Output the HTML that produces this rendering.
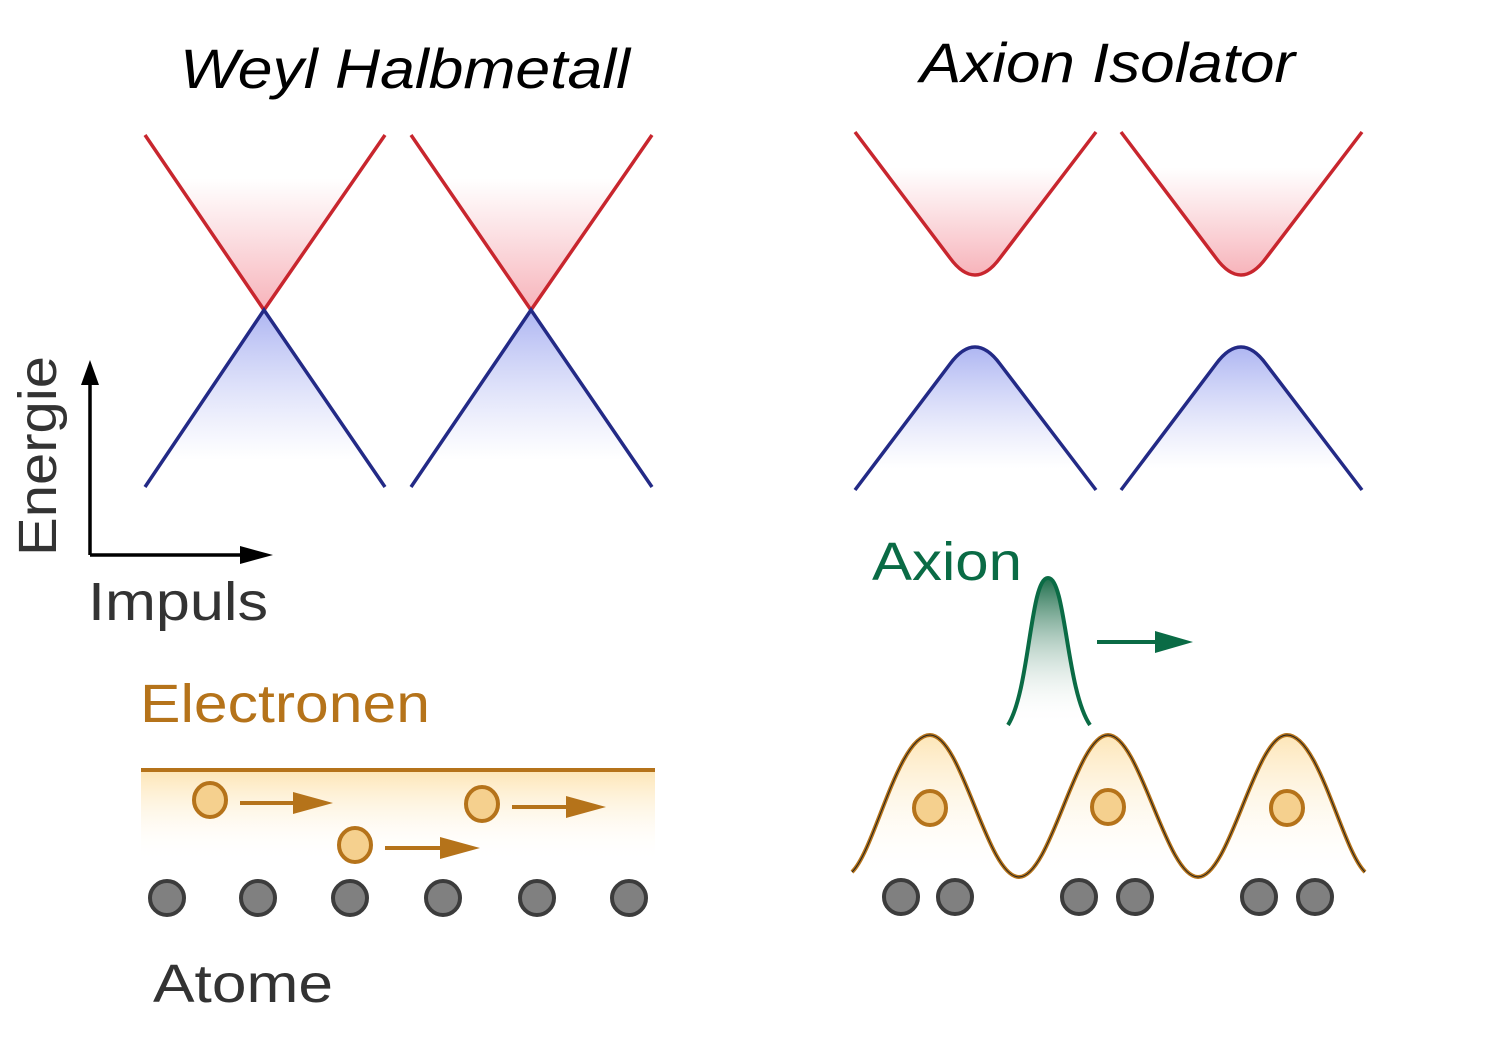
<!DOCTYPE html>
<html><head><meta charset="utf-8"><style>body{margin:0;background:#fff}svg{display:block}</style></head><body>
<svg width="1500" height="1064" viewBox="0 0 1500 1064" xmlns="http://www.w3.org/2000/svg" font-family="Liberation Sans, DejaVu Sans, sans-serif">
<defs>
<linearGradient id="rg" x1="0" y1="0" x2="0" y2="1" gradientUnits="objectBoundingBox"><stop offset="0.25" stop-color="#f7b9c0" stop-opacity="0"/><stop offset="1" stop-color="#f7b3ba"/></linearGradient>
<linearGradient id="bg" x1="0" y1="0" x2="0" y2="1"><stop offset="0" stop-color="#aeb6f2"/><stop offset="0.85" stop-color="#c8cdf6" stop-opacity="0"/></linearGradient>
<linearGradient id="og" x1="0" y1="0" x2="0" y2="1"><stop offset="0" stop-color="#fde6b8"/><stop offset="1" stop-color="#fff" stop-opacity="0"/></linearGradient>
<linearGradient id="gg" x1="0" y1="0" x2="0" y2="1"><stop offset="0" stop-color="#1f6e4c"/><stop offset="1" stop-color="#fff" stop-opacity="0"/></linearGradient>
</defs>
<text x="180" y="88" font-size="56" font-style="italic" fill="#000" textLength="450" lengthAdjust="spacingAndGlyphs">Weyl Halbmetall</text>
<text x="920" y="82" font-size="56" font-style="italic" fill="#000" textLength="375" lengthAdjust="spacingAndGlyphs">Axion Isolator</text>
<g stroke-width="3.5" fill="none">
<polygon points="264,310 145,135 385,135" fill="url(#rg)" stroke="none"/>
<polygon points="264,310 145,487 385,487" fill="url(#bg)" stroke="none"/>
<polygon points="531,310 411,135 652,135" fill="url(#rg)" stroke="none"/>
<polygon points="531,310 411,487 652,487" fill="url(#bg)" stroke="none"/>
<path d="M145,135 L264,310 L385,135 M411,135 L531,310 L652,135" stroke="#c8262e"/>
<path d="M145,487 L264,310 L385,487 M411,487 L531,310 L652,487" stroke="#232a86"/>
</g>
<g stroke-width="3.5">
<path d="M855,132 L950,258 Q975,292 1000,258 L1096,132 Z" fill="url(#rg)" stroke="none"/>
<path d="M1121,132 L1216,258 Q1241,292 1266,258 L1362,132 Z" fill="url(#rg)" stroke="none"/>
<path d="M855,490 L950,364 Q975,330 1000,364 L1096,490 Z" fill="url(#bg)" stroke="none"/>
<path d="M1121,490 L1216,364 Q1241,330 1266,364 L1362,490 Z" fill="url(#bg)" stroke="none"/>
<path d="M855,132 L950,258 Q975,292 1000,258 L1096,132 M1121,132 L1216,258 Q1241,292 1266,258 L1362,132" stroke="#c8262e" fill="none"/>
<path d="M855,490 L950,364 Q975,330 1000,364 L1096,490 M1121,490 L1216,364 Q1241,330 1266,364 L1362,490" stroke="#232a86" fill="none"/>
</g>
<path d="M90,555 L90,380 M90,555 L255,555" stroke="#000" stroke-width="3.5" fill="none"/>
<polygon points="90,360 81,385 99,385" fill="#000"/>
<polygon points="273,555 240,546 240,564" fill="#000"/>
<text transform="translate(56,556) rotate(-90)" font-size="54" fill="#333" textLength="200" lengthAdjust="spacingAndGlyphs">Energie</text>
<text x="88" y="620" font-size="54" fill="#333" textLength="180" lengthAdjust="spacingAndGlyphs">Impuls</text>
<text x="140" y="722" font-size="54" fill="#b5731a" textLength="290" lengthAdjust="spacingAndGlyphs">Electronen</text>
<rect x="141" y="772" width="514" height="90" fill="url(#og)"/>
<line x1="141" y1="770" x2="655" y2="770" stroke="#b5731a" stroke-width="4"/>
<g fill="#f5d08e" stroke="#b5731a" stroke-width="4">
<ellipse cx="210" cy="800" rx="16" ry="17"/><ellipse cx="355" cy="845" rx="16" ry="17"/><ellipse cx="482" cy="804" rx="16" ry="17"/>
</g>
<g stroke="#b5731a" stroke-width="4"><line x1="240" y1="803" x2="300" y2="803"/><line x1="385" y1="848" x2="445" y2="848"/><line x1="512" y1="807" x2="572" y2="807"/></g>
<g fill="#b5731a"><polygon points="333,803 293,792 293,814"/><polygon points="480,848 440,837 440,859"/><polygon points="606,807 566,796 566,818"/></g>
<g fill="#808080" stroke="#3c3c3c" stroke-width="4">
<circle cx="167" cy="898" r="17"/><circle cx="258" cy="898" r="17"/><circle cx="350" cy="898" r="17"/><circle cx="443" cy="898" r="17"/><circle cx="537" cy="898" r="17"/><circle cx="629" cy="898" r="17"/>
</g>
<text x="153" y="1002" font-size="54" fill="#333" textLength="180" lengthAdjust="spacingAndGlyphs">Atome</text>
<text x="872" y="580" font-size="54" fill="#0a6b45" textLength="150" lengthAdjust="spacingAndGlyphs">Axion</text>
<path d="M1008,725 C1030,690 1030,578 1048,578 C1066,578 1066,690 1090,725 Z" fill="url(#gg)" stroke="none"/>
<path d="M1008,725 C1030,690 1030,578 1048,578 C1066,578 1066,690 1090,725" fill="none" stroke="#0a6b45" stroke-width="4"/>
<line x1="1097" y1="642" x2="1160" y2="642" stroke="#0a6b45" stroke-width="4"/>
<polygon points="1193,642 1155,631 1155,653" fill="#0a6b45"/>
<path d="M852,872 C875,850 898,735 930,735 C962,735 987,877 1019,877 C1051,877 1076,735 1108,735 C1140,735 1166,877 1198,877 C1230,877 1255,735 1287,735 C1319,735 1342,850 1365,872 L1365,880 L852,880 Z" fill="url(#og)"/>
<path d="M852,872 C875,850 898,735 930,735 C962,735 987,877 1019,877 C1051,877 1076,735 1108,735 C1140,735 1166,877 1198,877 C1230,877 1255,735 1287,735 C1319,735 1342,850 1365,872" fill="none" stroke="#b5731a" stroke-width="4"/>
<path d="M852,872 C875,850 898,735 930,735 C962,735 987,877 1019,877 C1051,877 1076,735 1108,735 C1140,735 1166,877 1198,877 C1230,877 1255,735 1287,735 C1319,735 1342,850 1365,872" fill="none" stroke="#222" stroke-width="1"/>
<g fill="#f5d08e" stroke="#b5731a" stroke-width="4">
<ellipse cx="930" cy="808" rx="16" ry="17"/><ellipse cx="1108" cy="807" rx="16" ry="17"/><ellipse cx="1287" cy="808" rx="16" ry="17"/>
</g>
<g fill="#808080" stroke="#3c3c3c" stroke-width="4">
<circle cx="901" cy="897" r="17"/><circle cx="955" cy="897" r="17"/><circle cx="1079" cy="897" r="17"/><circle cx="1135" cy="897" r="17"/><circle cx="1259" cy="897" r="17"/><circle cx="1315" cy="897" r="17"/>
</g>
</svg>
</body></html>
